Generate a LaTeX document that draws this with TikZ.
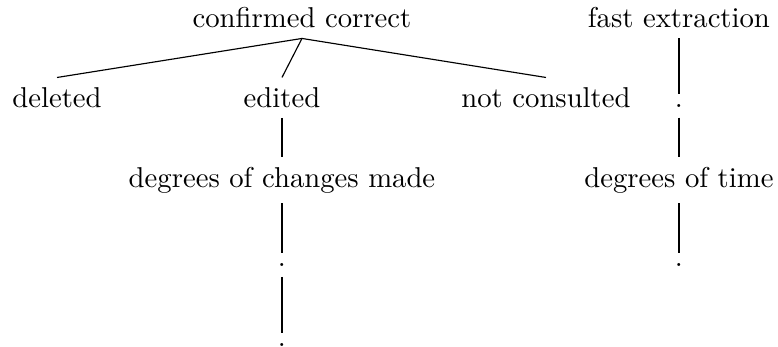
\documentclass[tikz,border=0pt]{standalone}
\usetikzlibrary{positioning}

\begin{document}
\begin{tikzpicture}[
    word/.style={inner sep=0.3333em, align=center},
    branch/.style={draw, thin}
]
\useasboundingbox (0,0) rectangle (9.527,-4.249);

% First tree
\node[word, anchor=base] (Confirmed) at (3.698,-0.343) {confirmed correct};
\node[word, below left=0.974cm and 3.0cm of Confirmed.base, anchor=base] (Deleted) {deleted};
\node[word, below left=0.974cm and 0.245cm of Confirmed.base, anchor=base] (Edited) {edited};
\node[word, below right=0.974cm and 2.988cm of Confirmed.base, anchor=base] (NotConsulted) {not consulted};
\node[word, below=0.974cm of Edited.base, anchor=base] (Changes) {degrees of changes made};
\node[word, below=0.974cm of Changes.base, anchor=base] (ChangesDotA) {.};
\node[word, below=0.974cm of ChangesDotA.base, anchor=base] (ChangesDotB) {.};

% Second tree
\node[word, right=4.616cm of Confirmed.base, anchor=base] (Fast) {fast extraction};
\node[word, below=0.974cm of Fast.base, anchor=base] (FastDot) {.};
\node[word, below=0.974cm of FastDot.base, anchor=base] (Time) {degrees of time};
\node[word, below=0.974cm of Time.base, anchor=base] (TimeDot) {.};

% Branches
\draw[branch] (Confirmed.south) -- (Deleted.north);
\draw[branch] (Confirmed.south) -- (Edited.north);
\draw[branch] (Confirmed.south) -- (NotConsulted.north);
\draw[branch] (Edited.south) -- (Changes.north);
\draw[branch] (Changes.south) -- (ChangesDotA.north);
\draw[branch] (ChangesDotA.south) -- (ChangesDotB.north);
\draw[branch] (Fast.south) -- (FastDot.north);
\draw[branch] (FastDot.south) -- (Time.north);
\draw[branch] (Time.south) -- (TimeDot.north);

\end{tikzpicture}
\end{document}
